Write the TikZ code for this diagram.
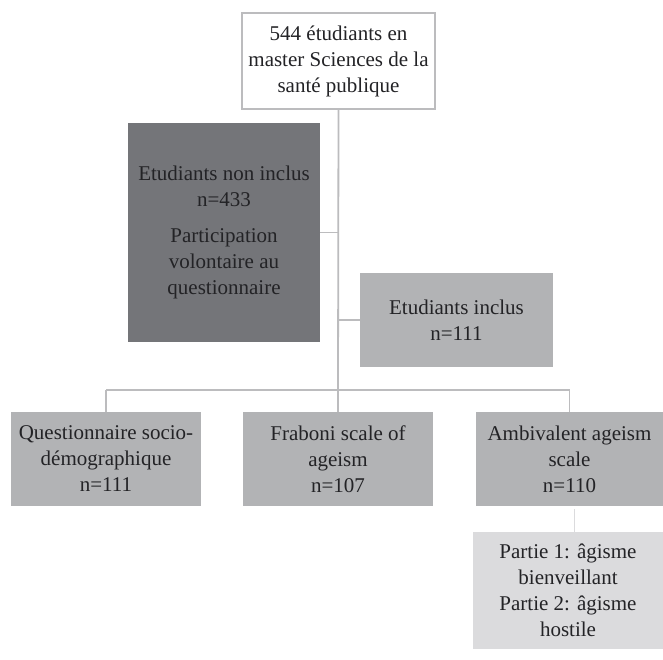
\documentclass[tikz,border=0pt]{standalone}
\usepackage{fontspec}
\setmainfont{Liberation Serif}
\definecolor{boxdark}{RGB}{116,117,121}
\definecolor{boxmid}{RGB}{178,179,181}
\definecolor{boxlight}{RGB}{219,219,221}
\definecolor{rule}{RGB}{188,188,190}
\definecolor{ink}{RGB}{35,35,38}

\begin{document}
\begin{tikzpicture}[x=1pt, y=-1pt,
    bx/.style={font=\fontsize{21}{26}\selectfont, text=ink, align=center,
               inner sep=0pt, outer sep=0pt},
    top/.style={bx, draw=rule, line width=1.6pt, fill=white},
    dk/.style={bx, fill=boxdark},
    md/.style={bx, fill=boxmid},
    lt/.style={bx, fill=boxlight},
    lnk/.style={draw=rule, line width=1.8pt}]
  \useasboundingbox[fill=white] (0,0) rectangle (663,659);

  % ---------- boxes -------------------------------------------------------
  \node[top, minimum width=193pt, minimum height=96pt] (total) at (338.5,61)
    {544 étudiants en\\master Sciences de la\\santé publique};
  \node[dk, minimum width=192pt, minimum height=219pt] (nonincl) at (224,232.5)
    {Etudiants non inclus\\n=433\\[10pt]Participation\\volontaire au\\questionnaire};
  \node[md, minimum width=193pt, minimum height=94pt] (incl) at (456.5,320)
    {Etudiants inclus\\n=111};
  \node[md, minimum width=190pt, minimum height=94pt] (socio) at (106,459)
    {Questionnaire socio-\\démographique\\n=111};
  \node[md, minimum width=190pt, minimum height=94pt] (frab) at (338,459)
    {Fraboni scale of\\ageism\\n=107};
  \node[md, minimum width=187pt, minimum height=94pt] (ambi) at (569.5,459)
    {Ambivalent ageism\\scale\\n=110};
  \node[lt, minimum width=190pt, minimum height=117pt] (parts) at (568,590.5)
    {Partie 1: âgisme\\bienveillant\\Partie 2: âgisme\\hostile};

  % ---------- connectors --------------------------------------------------
  \coordinate (junc) at (338,390);
  \draw[lnk] (total.south) -- (junc);
  \draw[lnk] (nonincl.east) -- (nonincl.east -| junc);
  \draw[lnk] (incl.west) -- (incl.west -| junc);
  \draw[lnk] (junc -| socio.north) -- (junc -| ambi.north);
  \foreach \b in {socio,frab,ambi} { \draw[lnk] (junc -| \b.north) -- (\b.north); }
  \draw[lnk, boxlight] ([xshift=5pt,yshift=-3pt]ambi.south) -- ([xshift=5pt]ambi.south |- parts.north);
\end{tikzpicture}
\end{document}
